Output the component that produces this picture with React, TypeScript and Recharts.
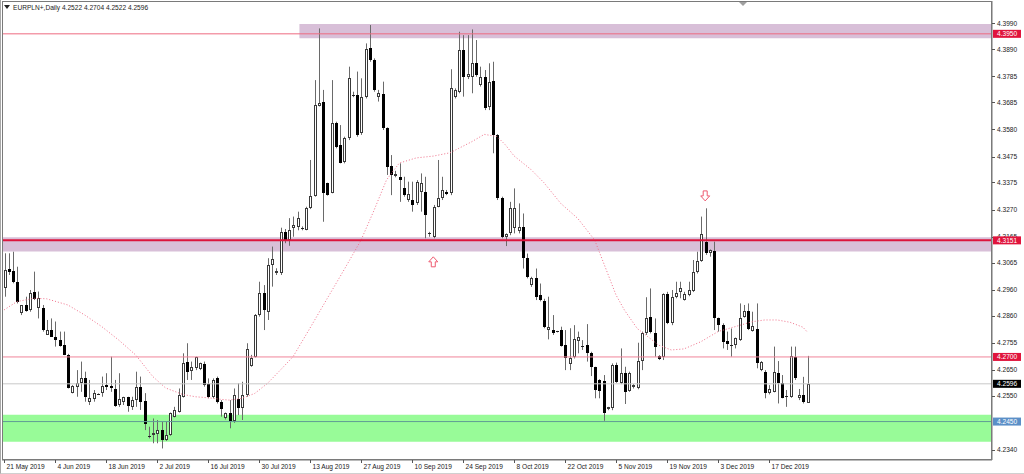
import {
  Bar,
  ComposedChart,
  Line,
  ReferenceArea,
  ReferenceDot,
  ReferenceLine,
  XAxis,
  YAxis,
} from "recharts";

// daily candles, 21 May 2019 .. 27 Dec 2019 (broker feed has Sunday bars)
const opens = [
  4.2966, 4.304, 4.3032, 4.2991, 4.2869, 4.2901, 4.2882, 4.295, 4.2888, 4.2888,
  4.2785, 4.2804, 4.2778, 4.2765, 4.2746, 4.2707, 4.2562, 4.2585, 4.2598, 4.2617,
  4.2527, 4.2536, 4.2557, 4.2562, 4.2591, 4.2587, 4.2575, 4.2514, 4.2527, 4.2544,
  4.2507, 4.2533, 4.2585, 4.253, 4.2394, 4.2398, 4.2402, 4.2417, 4.2378, 4.2398,
  4.2469, 4.2488, 4.2546, 4.268, 4.2645, 4.2656, 4.2652, 4.2672, 4.2595, 4.2544,
  4.2617, 4.2527, 4.2462, 4.2482, 4.2452, 4.2536, 4.2501, 4.2553, 4.2665, 4.2701,
  4.2862, 4.2946, 4.2875, 4.3056, 4.3023, 4.3023, 4.3185, 4.3152, 4.3197, 4.3204,
  4.3198, 4.3193, 4.3275, 4.3322, 4.3672, 4.3688, 4.3371, 4.3335, 4.3606, 4.352,
  4.3455, 4.3546, 4.3713, 4.3713, 4.3565, 4.3707, 4.3894, 4.3849, 4.3707, 4.3717,
  4.3584, 4.3439, 4.34, 4.3397, 4.3355, 4.3307, 4.3307, 4.3294, 4.3339, 4.3339,
  4.3178, 4.3165, 4.3281, 4.3313, 4.3339, 4.3333, 4.3707, 4.3726, 4.3887, 4.3784,
  4.3784, 4.3838, 4.3752, 4.3784, 4.3668, 4.3767, 4.3558, 4.3313, 4.3165, 4.3178,
  4.3197, 4.3188, 4.3204, 4.3081, 4.2978, 4.3004, 4.2939, 4.2915, 4.2804, 4.2804,
  4.2799, 4.2804, 4.2746, 4.2671, 4.2701, 4.2763, 4.2737, 4.2746, 4.2716, 4.266,
  4.2611, 4.2607, 4.2497, 4.2501, 4.2669, 4.26, 4.2639, 4.2568, 4.2582, 4.2578,
  4.2684, 4.2791, 4.2853, 4.2791, 4.2704, 4.2701, 4.2943, 4.2833, 4.2931, 4.2952,
  4.292, 4.294, 4.2955, 4.3027, 4.3071, 4.3146, 4.3101, 4.3111, 4.2849, 4.2823,
  4.2762, 4.2747, 4.2746, 4.2765, 4.2856, 4.2878, 4.28, 4.281, 4.2649, 4.2643,
  4.2559, 4.2565, 4.2639, 4.2598, 4.2547, 4.2546, 4.2701, 4.254, 4.2553, 4.2522,
];
const highs = [
  4.3101, 4.3101, 4.3107, 4.3049, 4.2901, 4.2933, 4.2959, 4.303, 4.2953, 4.2901,
  4.2843, 4.2849, 4.2837, 4.2798, 4.2798, 4.2712, 4.2591, 4.2649, 4.2682, 4.2643,
  4.2611, 4.2572, 4.2559, 4.2624, 4.2637, 4.2701, 4.2611, 4.2637, 4.2546, 4.2546,
  4.2546, 4.2643, 4.2624, 4.256, 4.243, 4.2462, 4.2456, 4.2449, 4.2449, 4.2485,
  4.2507, 4.2578, 4.2714, 4.2753, 4.2682, 4.2701, 4.2678, 4.2682, 4.2617, 4.2617,
  4.2624, 4.2533, 4.2485, 4.2533, 4.2578, 4.2598, 4.2604, 4.2753, 4.2708, 4.2866,
  4.2991, 4.2978, 4.3082, 4.3127, 4.3043, 4.32, 4.3195, 4.3237, 4.3243, 4.3262,
  4.3205, 4.3281, 4.3462, 4.3771, 4.3971, 4.3733, 4.3374, 4.3771, 4.361, 4.3597,
  4.3552, 4.3823, 4.3726, 4.3804, 4.3778, 4.3913, 4.3984, 4.3855, 4.3733, 4.3765,
  4.3588, 4.3481, 4.342, 4.3449, 4.3397, 4.3378, 4.3378, 4.3384, 4.341, 4.3397,
  4.3184, 4.3288, 4.3462, 4.3397, 4.3346, 4.3813, 4.3739, 4.3958, 4.3945, 4.3945,
  4.3967, 4.3926, 4.3823, 4.381, 4.3836, 4.3842, 4.3562, 4.332, 4.3178, 4.33,
  4.3352, 4.3294, 4.3255, 4.31, 4.301, 4.3042, 4.2984, 4.2925, 4.2933, 4.2862,
  4.2801, 4.2817, 4.2804, 4.2811, 4.2823, 4.2798, 4.2765, 4.2827, 4.272, 4.2662,
  4.2614, 4.263, 4.2507, 4.2675, 4.2678, 4.2733, 4.2662, 4.2643, 4.2595, 4.2755,
  4.2798, 4.2931, 4.2965, 4.2849, 4.2707, 4.2946, 4.2952, 4.2959, 4.2991, 4.2991,
  4.2952, 4.2991, 4.3075, 4.3107, 4.3243, 4.3275, 4.3116, 4.3146, 4.2852, 4.283,
  4.2798, 4.281, 4.2775, 4.2907, 4.2901, 4.2907, 4.2875, 4.2907, 4.2684, 4.2649,
  4.2591, 4.274, 4.2684, 4.263, 4.2572, 4.274, 4.274, 4.2576, 4.2623, 4.2704,
];
const lows = [
  4.2933, 4.3017, 4.2985, 4.2907, 4.2862, 4.2875, 4.2875, 4.292, 4.2849, 4.2798,
  4.2785, 4.2778, 4.274, 4.274, 4.2707, 4.2578, 4.2559, 4.2546, 4.2565, 4.2527,
  4.2514, 4.2527, 4.2553, 4.2546, 4.2572, 4.2565, 4.2507, 4.2507, 4.2514, 4.2488,
  4.2495, 4.2507, 4.2495, 4.2417, 4.2385, 4.2366, 4.2366, 4.2346, 4.2375, 4.2395,
  4.2466, 4.2485, 4.2543, 4.2611, 4.2611, 4.2649, 4.2649, 4.2585, 4.254, 4.254,
  4.252, 4.2469, 4.2458, 4.2424, 4.2445, 4.2475, 4.2456, 4.2546, 4.2662, 4.2698,
  4.2856, 4.2804, 4.2843, 4.2972, 4.3017, 4.3017, 4.314, 4.313, 4.3165, 4.319,
  4.319, 4.319, 4.3272, 4.332, 4.3669, 4.3223, 4.3324, 4.3333, 4.3507, 4.3449,
  4.3449, 4.3539, 4.3705, 4.3552, 4.3559, 4.37, 4.3842, 4.3726, 4.3688, 4.3578,
  4.3404, 4.3326, 4.3395, 4.33, 4.332, 4.33, 4.3262, 4.3288, 4.3262, 4.3159,
  4.3165, 4.3159, 4.3279, 4.3307, 4.3326, 4.3326, 4.37, 4.372, 4.3707, 4.3775,
  4.372, 4.3784, 4.3746, 4.3655, 4.3655, 4.3488, 4.3307, 4.3159, 4.3129, 4.3171,
  4.3178, 4.3178, 4.3042, 4.3004, 4.2971, 4.292, 4.2915, 4.2811, 4.2768, 4.2785,
  4.2795, 4.274, 4.2649, 4.2649, 4.2694, 4.2714, 4.2727, 4.2682, 4.2626, 4.254,
  4.254, 4.2453, 4.2494, 4.2494, 4.26, 4.2595, 4.2518, 4.2565, 4.2578, 4.2575,
  4.2649, 4.2785, 4.2791, 4.2701, 4.2688, 4.2688, 4.2827, 4.2823, 4.2927, 4.2927,
  4.2918, 4.2935, 4.2951, 4.3023, 4.3068, 4.3095, 4.3088, 4.2804, 4.2798, 4.2733,
  4.2727, 4.2701, 4.2733, 4.2762, 4.2852, 4.2804, 4.2798, 4.2656, 4.2645, 4.254,
  4.2555, 4.2563, 4.252, 4.254, 4.2507, 4.2542, 4.2611, 4.2533, 4.252, 4.2522,
];
const closes = [
  4.3036, 4.303, 4.2991, 4.2914, 4.2901, 4.2879, 4.2946, 4.2923, 4.2927, 4.2804,
  4.2804, 4.2778, 4.2765, 4.2742, 4.2707, 4.2581, 4.2587, 4.26, 4.2617, 4.2546,
  4.254, 4.2562, 4.2555, 4.2587, 4.2585, 4.2578, 4.251, 4.2536, 4.2544, 4.251,
  4.2533, 4.2585, 4.2527, 4.244, 4.2389, 4.2407, 4.2417, 4.2378, 4.2398, 4.2482,
  4.2495, 4.2553, 4.2678, 4.2643, 4.266, 4.2698, 4.2675, 4.2591, 4.2544, 4.2611,
  4.2527, 4.2497, 4.2482, 4.2453, 4.2553, 4.2504, 4.2553, 4.2729, 4.2695, 4.2862,
  4.2949, 4.2882, 4.3056, 4.3078, 4.3032, 4.3185, 4.315, 4.3191, 4.321, 4.3236,
  4.3196, 4.3277, 4.3322, 4.3675, 4.3681, 4.3333, 4.3326, 4.3604, 4.3514, 4.3451,
  4.3546, 4.3778, 4.3711, 4.3559, 4.3707, 4.389, 4.3849, 4.3733, 4.372, 4.3584,
  4.3436, 4.3404, 4.3408, 4.3384, 4.3326, 4.333, 4.3288, 4.3378, 4.3371, 4.3249,
  4.318, 4.3281, 4.3313, 4.3346, 4.333, 4.3739, 4.3733, 4.3887, 4.3784, 4.3793,
  4.3836, 4.3791, 4.3784, 4.3662, 4.3765, 4.3558, 4.3313, 4.3165, 4.3174, 4.3275,
  4.3275, 4.3204, 4.3081, 4.301, 4.3004, 4.293, 4.292, 4.2817, 4.2817, 4.2791,
  4.2797, 4.2742, 4.2694, 4.2694, 4.2768, 4.2778, 4.2744, 4.2714, 4.2662, 4.2572,
  4.2568, 4.2482, 4.2505, 4.2669, 4.2604, 4.2639, 4.2565, 4.2639, 4.2591, 4.2684,
  4.2791, 4.2852, 4.2795, 4.2737, 4.2691, 4.2943, 4.2833, 4.2933, 4.2949, 4.2965,
  4.2943, 4.2959, 4.3027, 4.3071, 4.3174, 4.3101, 4.3114, 4.2849, 4.2823, 4.2759,
  4.2749, 4.2746, 4.2772, 4.2852, 4.2878, 4.2808, 4.2821, 4.2675, 4.2681, 4.2559,
  4.2576, 4.264, 4.2598, 4.2542, 4.2546, 4.2705, 4.2617, 4.2553, 4.2524, 4.2596,
];

// dotted moving average, read at these bars
const maBars = [
  0, 3, 7, 10, 15, 19, 23, 27, 31, 35, 38, 42, 45, 48, 51, 53, 56, 59, 62, 65,
  68, 72, 76, 80, 84, 87, 90, 93, 97, 101, 105, 107, 110, 113, 116, 118, 120, 124,
  127, 131, 135, 139, 142, 144, 146, 149, 151, 154, 157, 160, 164, 168, 172, 176,
  179, 182, 185, 188, 189,
];
const maValues = [
  4.2882, 4.2914, 4.2927, 4.2925, 4.2901, 4.2862, 4.2817, 4.2765, 4.2707, 4.2624,
  4.258, 4.2555, 4.2546, 4.2542, 4.2536, 4.2533, 4.254, 4.2559, 4.2598, 4.2649,
  4.2701, 4.2812, 4.2925, 4.3037, 4.3152, 4.3265, 4.3385, 4.345, 4.347, 4.3477,
  4.349, 4.3507, 4.3532, 4.3561, 4.3553, 4.352, 4.3478, 4.3425, 4.3375, 4.3294,
  4.3236, 4.3152, 4.3025, 4.294, 4.2881, 4.281, 4.2785, 4.2746, 4.2727, 4.2731,
  4.2759, 4.2798, 4.2817, 4.2836, 4.2843, 4.2843, 4.2834, 4.2815, 4.2797,
];

const dateTicks = [0, 12, 24, 36, 48, 60, 72, 84, 96, 108, 120, 132, 144, 156, 168, 180];
const dateLabels = [
  "21 May 2019", "4 Jun 2019", "18 Jun 2019", "2 Jul 2019", "16 Jul 2019",
  "30 Jul 2019", "13 Aug 2019", "27 Aug 2019", "10 Sep 2019", "24 Sep 2019",
  "8 Oct 2019", "22 Oct 2019", "5 Nov 2019", "19 Nov 2019", "3 Dec 2019",
  "17 Dec 2019",
];

const priceTicks = [
  4.399, 4.389, 4.3785, 4.3685, 4.358, 4.3475, 4.3375, 4.327, 4.3165, 4.3065,
  4.296, 4.286, 4.2755, 4.265, 4.255, 4.234,
];

// levels drawn on the chart and their price tags on the scale
const levelPrices = [4.395, 4.3151, 4.27, 4.2596, 4.245];
const levelTagColors = ["#e0143c", "#e0143c", "#e0143c", "#000000", "#5b8fc7"];

const SLOTS = 233; // bars on screen incl. the empty shift area on the right
const FONT = "'Liberation Sans', Arial, sans-serif";

const rows = Array.from({ length: SLOTS }, (_, i) => {
  const row: any = { idx: i };
  if (i < opens.length) {
    row.o = opens[i];
    row.h = highs[i];
    row.l = lows[i];
    row.c = closes[i];
    row.range = [lows[i], highs[i]];
  }
  const m = maBars.indexOf(i);
  if (m >= 0) row.ma = maValues[m];
  return row;
});

function Candle(props: any) {
  const { x, y, width, height, payload } = props;
  if (!payload || payload.o == null) return null;
  const top = Math.min(y, y + height);
  const hgt = Math.abs(height);
  const span = payload.h - payload.l;
  const k = span > 0 ? hgt / span : 0;
  const cx = Math.round(x + width / 2) + 0.5;
  const yO = top + (payload.h - payload.o) * k;
  const yC = top + (payload.h - payload.c) * k;
  const b0 = Math.round(Math.min(yO, yC));
  const b1 = Math.round(Math.max(yO, yC));
  const bull = payload.c >= payload.o;
  return (
    <g>
      <line x1={cx} x2={cx} y1={top} y2={top + hgt} stroke="#6a6a6a" strokeWidth={1} />
      {b1 - b0 <= 1 ? (
        <line x1={cx - 1.5} x2={cx + 1.5} y1={b0 + 0.5} y2={b0 + 0.5} stroke="#222" />
      ) : (
        <rect
          x={cx - 1}
          y={b0 + 0.5}
          width={2}
          height={b1 - b0 - 1}
          fill={bull ? "#ffffff" : "#000000"}
          stroke={bull ? "#3a3a3a" : "#000000"}
          strokeWidth={1}
        />
      )}
    </g>
  );
}

function DateTick({ x, y, payload }: any) {
  const i = dateTicks.indexOf(payload.value);
  const px = Math.round(x) + 0.5;
  return (
    <g>
      <line x1={px} x2={px} y1={y} y2={y + 3} stroke="#555" />
      <text x={px + 2} y={y + 9} fontSize={6.6} fill="#222" fontFamily={FONT}>
        {i >= 0 ? dateLabels[i] : ""}
      </text>
    </g>
  );
}

// scale labels: plain ticks first, then the coloured price tags on top of them
function PriceTick({ x, y, payload }: any) {
  const v = Number(payload.value);
  const lvl = levelPrices.indexOf(v);
  const label = v.toFixed(4);
  if (lvl >= 0) {
    return (
      <g>
        <rect x={x - 4} y={y - 4} width={28} height={8} fill={levelTagColors[lvl]} />
        <text x={x} y={y + 2.5} fontSize={6.6} fill="#ffffff" fontFamily={FONT}>
          {label}
        </text>
      </g>
    );
  }
  const py = Math.round(y) + 0.5;
  return (
    <g>
      <line x1={x - 5} x2={x - 2} y1={py} y2={py} stroke="#555" />
      <text x={x} y={y + 2.5} fontSize={6.6} fill="#222" fontFamily={FONT}>
        {label}
      </text>
    </g>
  );
}

function Arrow({ cx, cy, dir }: any) {
  const s = dir === "up" ? 1 : -1;
  const d = `M ${cx} ${cy - 5 * s} L ${cx + 4.5} ${cy} L ${cx + 2} ${cy} L ${cx + 2} ${cy + 5 * s} L ${cx - 2} ${cy + 5 * s} L ${cx - 2} ${cy} L ${cx - 4.5} ${cy} Z`;
  return <path d={d} fill="#ffffff" stroke="#ee5a70" strokeWidth={1} />;
}

export default function App() {
  return (
    <div
      style={{
        position: "absolute",
        left: 0,
        top: 0,
        width: 1024,
        height: 474,
        background: "#ffffff",
        overflow: "hidden",
      }}
    >
      <ComposedChart
        width={1024}
        height={474}
        data={rows}
        margin={{ top: 1, right: 0, bottom: 0, left: 2 }}
      >
        <XAxis
          dataKey="idx"
          type="category"
          ticks={dateTicks}
          interval={0}
          height={14}
          tickSize={0}
          tickMargin={0}
          tickLine={false}
          axisLine={{ stroke: "#777" }}
          tick={<DateTick />}
        />
        <YAxis
          orientation="right"
          width={32}
          domain={[4.23013, 4.4077]}
          allowDataOverflow
          ticks={[...priceTicks, ...levelPrices]}
          interval={0}
          tickSize={3}
          tickMargin={2}
          tickLine={false}
          axisLine={{ stroke: "#777" }}
          tick={<PriceTick />}
        />

        <ReferenceArea x1={70} y1={4.3933} y2={4.3988} fill="#d8bfd8" fillOpacity={1} stroke="none" />
        <ReferenceArea y1={4.3108} y2={4.3163} fill="#d8bfd8" fillOpacity={1} stroke="none" />
        <ReferenceArea y1={4.2372} y2={4.2476} fill="#98fb98" fillOpacity={1} stroke="none" />

        <Bar dataKey="range" barSize={3} shape={<Candle />} isAnimationActive={false} />
        <Line
          dataKey="ma"
          type="linear"
          connectNulls
          dot={false}
          stroke="#f0708a"
          strokeWidth={1}
          strokeDasharray="1 2"
          isAnimationActive={false}
        />

        <ReferenceLine y={levelPrices[0]} stroke="#ee6a80" strokeWidth={1} />
        <ReferenceLine y={levelPrices[1]} stroke="#dc143c" strokeWidth={2} />
        <ReferenceLine y={levelPrices[2]} stroke="#f0849a" strokeWidth={1} />
        <ReferenceLine y={levelPrices[3]} stroke="#c8c8c8" strokeWidth={1} />
        <ReferenceLine y={levelPrices[4]} stroke="#5f9c95" strokeWidth={1} />

        <ReferenceDot x={101} y={4.3068} r={5} shape={(p: any) => <Arrow {...p} dir="up" />} />
        <ReferenceDot x={165} y={4.3323} r={5} shape={(p: any) => <Arrow {...p} dir="down" />} />
      </ComposedChart>

      <div
        style={{
          position: "absolute",
          left: 2,
          top: 1,
          width: 990,
          height: 459,
          border: "1px solid #7a7a7a",
          boxSizing: "border-box",
          pointerEvents: "none",
        }}
      />
      <div
        style={{
          position: "absolute",
          left: 0,
          top: 0,
          width: 1024,
          height: 474,
          borderLeft: "1px solid #a8a8a8",
          borderBottom: "1px solid #d0d0d0",
          boxSizing: "border-box",
          pointerEvents: "none",
        }}
      />
      <svg
        width={1024}
        height={12}
        style={{ position: "absolute", left: 0, top: 0, pointerEvents: "none" }}
      >
        <polygon points="739,2 747,2 743,6" fill="#a0a0a0" />
        <polygon points="4,5 10,5 7,9" fill="#222" />
        <text x={13} y={10} fontSize={6.6} fill="#222" fontFamily={FONT}>
          EURPLN+,Daily  4.2522 4.2704 4.2522 4.2596
        </text>
      </svg>
    </div>
  );
}
